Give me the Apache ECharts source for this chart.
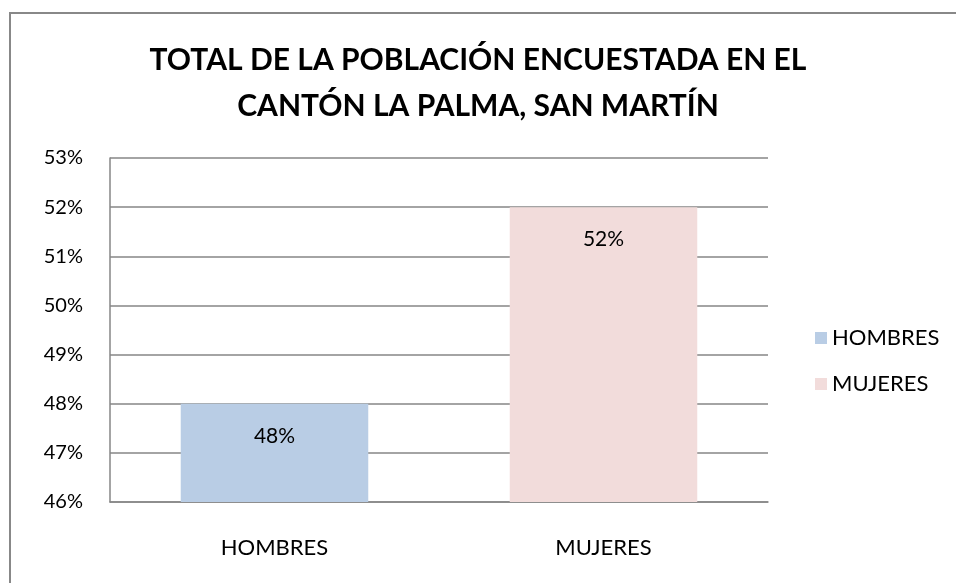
<!DOCTYPE html>
<html>
<head>
<meta charset="utf-8">
<script src="https://cdn.jsdelivr.net/npm/echarts@6/dist/echarts.min.js"></script>
<style>
  html, body { margin: 0; padding: 0; background: #fff; }
  #chart { width: 956px; height: 583px; }
</style>
</head>
<body>
<div id="chart"></div>
<script>
const categories = ['HOMBRES', 'MUJERES'];
const hombres = [48, '-'];
const mujeres = ['-', 52];
const yTicks = { min: 46, max: 53, interval: 1 };

const myChart = echarts.init(document.getElementById('chart'));
const font = 'Lato, "Open Sans", sans-serif';

const option = {
  backgroundColor: '#fff',
  textStyle: { fontFamily: font },
  title: {
    text: 'TOTAL DE LA POBLACIÓN ENCUESTADA EN EL\nCANTÓN LA PALMA, SAN MARTÍN',
    left: 'center',
    top: 32,
    textStyle: {
      fontFamily: font,
      fontSize: 30,
      fontWeight: 'bold',
      color: '#000',
      lineHeight: 46,
    },
  },
  legend: {
    orient: 'vertical',
    left: 810,
    top: 322,
    itemWidth: 12,
    itemHeight: 12,
    itemGap: 24,
    icon: 'rect',
    textStyle: { fontSize: 22, color: '#000', fontFamily: font },
    data: categories,
  },
  grid: {
    left: 110,
    right: 188,
    top: 158,
    bottom: 81,
  },
  xAxis: {
    type: 'category',
    data: categories,
    axisLine: { lineStyle: { color: '#868686', width: 1.5 } },
    axisTick: { show: false },
    axisLabel: { fontSize: 22, color: '#000', margin: 35 },
  },
  yAxis: {
    type: 'value',
    min: yTicks.min,
    max: yTicks.max,
    interval: yTicks.interval,
    axisLine: { show: true, lineStyle: { color: '#868686', width: 1.5 } },
    axisTick: { show: false },
    axisLabel: { fontSize: 20, color: '#000', margin: 27, formatter: '{value}%' },
    splitLine: { lineStyle: { color: '#868686', width: 1.5 } },
  },
  series: [
    {
      name: 'HOMBRES',
      type: 'bar',
      data: hombres,
      barWidth: '57%',
      barGap: '-100%',
      itemStyle: { color: '#b9cde5' },
      label: {
        show: true,
        position: 'insideTop',
        distance: 22,
        formatter: '{c}%',
        fontSize: 21,
        color: '#000',
      },
    },
    {
      name: 'MUJERES',
      type: 'bar',
      data: mujeres,
      barWidth: '57%',
      itemStyle: { color: '#f2dcdb' },
      label: {
        show: true,
        position: 'insideTop',
        distance: 22,
        formatter: '{c}%',
        fontSize: 21,
        color: '#000',
      },
    },
  ],
  graphic: [
    {
      type: 'rect',
      shape: { x: 10, y: 13, width: 960, height: 600 },
      style: { fill: 'none', stroke: '#888', lineWidth: 2 },
      silent: true,
    },
  ],
};

myChart.setOption(option);
</script>
</body>
</html>
